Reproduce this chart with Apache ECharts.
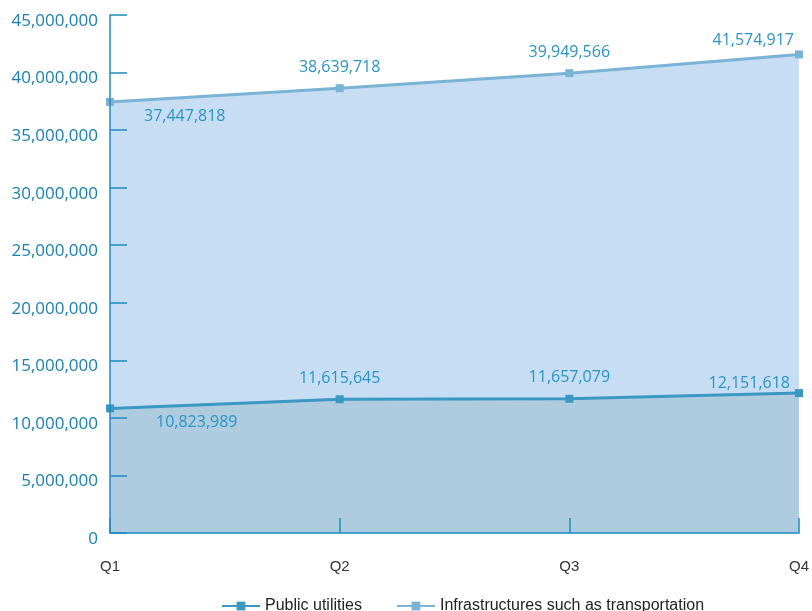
<!DOCTYPE html>
<html>
<head>
<meta charset="utf-8">
<script src="https://cdn.jsdelivr.net/npm/echarts@6/dist/echarts.min.js"></script>
<style>
  html, body { margin: 0; padding: 0; background: #ffffff; }
  #chart { width: 812px; height: 611px; }
</style>
</head>
<body>
<div id="chart"></div>
<script>
// Quarterly values
const quarters = ['Q1', 'Q2', 'Q3', 'Q4'];
const publicUtilities = [10823989, 11615645, 11657079, 12151618];
const infrastructure = [37447818, 38639718, 39949566, 41574917];
const yTicks = { min: 0, max: 45000000, interval: 5000000 };

const seriesNames = ['Public utilities', 'Infrastructures such as transportation'];

const labelColor = '#2a95c2';
const axisColor = '#1f8bbd';
const fmt = v => v.toLocaleString('en-US');

// per-point label placement: first point below-right, last point above-left
function labelFor(i, firstOffset, lastOffset) {
  if (i === 0) return { position: 'right', offset: firstOffset };
  if (i === quarters.length - 1) return { position: 'left', offset: lastOffset };
  return { position: 'top', distance: 9 };
}

function buildData(values, firstOffset, lastOffset) {
  return values.map((v, i) => ({ value: v, label: labelFor(i, firstOffset, lastOffset) }));
}

const chart = echarts.init(document.getElementById('chart'));
chart.setOption({
  animation: false,
  grid: { left: 110, right: 12, top: 15, bottom: 78, containLabel: false },
  legend: {
    data: seriesNames,
    bottom: -8,
    left: 216,
    itemWidth: 38,
    itemHeight: 11,
    itemGap: 34,
    textStyle: { fontFamily: 'Liberation Sans, Arial', fontSize: 16, color: '#222' }
  },
  xAxis: {
    type: 'category',
    data: quarters,
    boundaryGap: false,
    z: 10,
    axisLine: { lineStyle: { color: axisColor, width: 1.5 } },
    axisTick: { inside: true, length: 15, lineStyle: { color: axisColor, width: 1.5 } },
    axisLabel: {
      color: '#333', fontFamily: 'Liberation Sans, Arial', fontSize: 15, margin: 26,
      align: 'center'
    },
    splitLine: { show: false }
  },
  yAxis: {
    type: 'value',
    min: yTicks.min, max: yTicks.max, interval: yTicks.interval,
    z: 10,
    axisLine: { show: true, lineStyle: { color: axisColor, width: 1.5 } },
    axisTick: { show: true, inside: true, length: 17, lineStyle: { color: axisColor, width: 1.5 } },
    axisLabel: {
      color: '#1a80b0', fontFamily: 'Open Sans', fontSize: 17, margin: 12,
      formatter: v => '{v|' + fmt(v) + '}',
      rich: { v: { color: '#1a80b0', fontFamily: 'Open Sans', fontSize: 17, padding: [12, 0, 0, 0] } }
    },
    splitLine: { show: false }
  },
  series: [
    {
      name: seriesNames[1],
      type: 'line',
      data: buildData(infrastructure, [25, 15], [4, -14]),
      symbol: 'rect',
      symbolSize: 8,
      showAllSymbol: true,
      itemStyle: { color: '#7ab3d5' },
      lineStyle: { color: '#7ab3d5', width: 3 },
      areaStyle: { color: '#c6ddf3', opacity: 1 },
      label: {
        show: true, color: labelColor, fontFamily: 'Open Sans', fontSize: 16,
        formatter: p => fmt(p.value)
      },
      z: 2
    },
    {
      name: seriesNames[0],
      type: 'line',
      data: buildData(publicUtilities, [37, 14], [0, -10]),
      symbol: 'rect',
      symbolSize: 8,
      showAllSymbol: true,
      itemStyle: { color: '#3a98c3' },
      lineStyle: { color: '#3a98c3', width: 3 },
      areaStyle: { color: '#aecbe0', opacity: 1 },
      label: {
        show: true, color: labelColor, fontFamily: 'Open Sans', fontSize: 16,
        formatter: p => fmt(p.value)
      },
      z: 3
    }
  ]
});
</script>
</body>
</html>
